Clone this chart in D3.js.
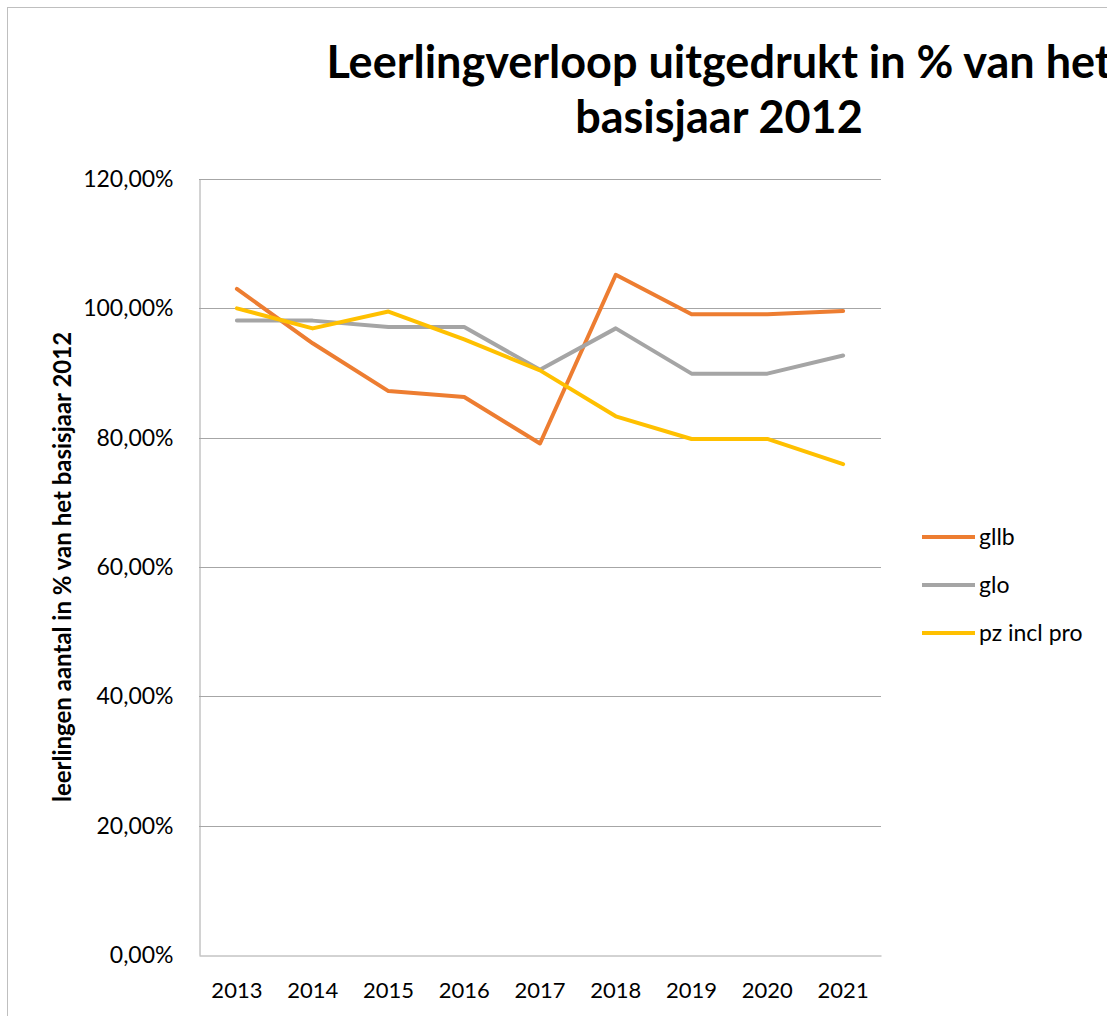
<!DOCTYPE html>
<html>
<head>
<meta charset="utf-8">
<script src="https://cdn.jsdelivr.net/npm/d3@7"></script>
<style>
  html, body { margin: 0; padding: 0; background: #fff; overflow: hidden; }
  svg { display: block; font-family: Lato, "Open Sans", sans-serif; }
</style>
</head>
<body>
<svg id="chart"></svg>
<script>
// Data
const years = ['2013', '2014', '2015', '2016', '2017', '2018', '2019', '2020', '2021'];
const gllb = [103.0, 94.6, 87.2, 86.3, 79.1, 105.2, 99.1, 99.1, 99.6];
const glo = [98.1, 98.1, 97.1, 97.1, 90.5, 96.9, 89.9, 89.9, 92.7];
const pz = [100.0, 96.9, 99.5, 95.2, 90.4, 83.3, 79.8, 79.8, 75.9];
const seriesNames = ['gllb', 'glo', 'pz incl pro'];
const seriesColors = ['#ED7D31', '#A5A5A5', '#FFC000'];
const yTicks = [0, 20, 40, 60, 80, 100, 120];

const width = 1107, height = 1016;
const plot = { left: 199, right: 881, top: 179, bottom: 955 };

const svg = d3.select('#chart').attr('width', width).attr('height', height);

// Chart frame
svg.append('rect')
  .attr('x', 7.5).attr('y', 7.5)
  .attr('width', width + 10).attr('height', height + 10)
  .attr('fill', 'none').attr('stroke', '#bfbfbf').attr('stroke-width', 1);

const x = d3.scaleBand().domain(years).range([plot.left, plot.right]);
const y = d3.scaleLinear().domain([0, 120]).range([plot.bottom, plot.top]);

// Gridlines
svg.append('g')
  .selectAll('line')
  .data(yTicks.slice(1))
  .enter()
  .append('line')
  .attr('x1', plot.left).attr('x2', plot.right)
  .attr('y1', d => Math.round(y(d)) + 0.5).attr('y2', d => Math.round(y(d)) + 0.5)
  .attr('stroke', '#a6a6a6').attr('stroke-width', 1);

// Y axis
const yAxis = svg.append('g')
  .attr('transform', `translate(${plot.left + 0.5},0)`)
  .call(d3.axisLeft(y).tickValues(yTicks).tickSize(0).tickPadding(26)
    .tickFormat(d => d3.format('.2f')(d).replace('.', ',') + '%'));
yAxis.select('.domain').attr('stroke', '#a6a6a6');
yAxis.selectAll('text').attr('font-size', 23).attr('fill', '#000')
  .attr('font-family', 'Lato, sans-serif');

// X axis
const xAxis = svg.append('g')
  .attr('transform', `translate(0,${plot.bottom + 0.5})`)
  .call(d3.axisBottom(x).tickSize(0).tickPadding(27));
xAxis.select('.domain').attr('stroke', '#a6a6a6');
xAxis.selectAll('text').attr('font-size', 22).attr('fill', '#000')
  .attr('font-family', 'Lato, sans-serif');

// Lines
const allSeries = [gllb, glo, pz];
const line = d3.line()
  .x((d, i) => x(years[i]) + x.bandwidth() / 2)
  .y(d => y(d));

svg.append('g')
  .selectAll('path')
  .data(allSeries)
  .enter()
  .append('path')
  .attr('d', d => line(d))
  .attr('fill', 'none')
  .attr('stroke', (d, i) => seriesColors[i])
  .attr('stroke-width', 4)
  .attr('stroke-linejoin', 'round')
  .attr('stroke-linecap', 'round');

// Title
const title = svg.append('text')
  .attr('text-anchor', 'middle')
  .attr('font-size', 45)
  .attr('font-weight', 'bold')
  .attr('fill', '#000');
title.append('tspan').attr('x', 719).attr('y', 78).text('Leerlingverloop uitgedrukt in % van het');
title.append('tspan').attr('x', 719).attr('y', 133).text('basisjaar 2012');

// Y axis title
svg.append('text')
  .attr('transform', `translate(71,567) rotate(-90)`)
  .attr('text-anchor', 'middle')
  .attr('font-size', 24)
  .attr('font-weight', 'bold')
  .attr('fill', '#000')
  .text('leerlingen aantal in % van het basisjaar 2012');

// Legend
const legend = svg.append('g')
  .selectAll('g')
  .data(seriesNames)
  .enter()
  .append('g')
  .attr('transform', (d, i) => `translate(922,${537 + i * 48})`);

legend.append('line')
  .attr('x1', 0).attr('x2', 53)
  .attr('stroke', (d, i) => seriesColors[i])
  .attr('stroke-width', 4);

legend.append('text')
  .attr('x', 57).attr('dy', '0.35em')
  .attr('font-size', 23)
  .attr('fill', '#000')
  .text(d => d);
</script>
</body>
</html>
